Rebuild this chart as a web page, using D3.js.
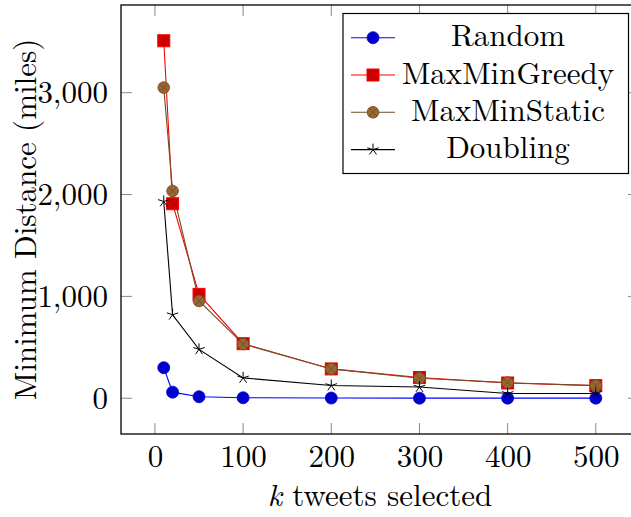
<!DOCTYPE html>
<html>
<head>
<meta charset="utf-8">
<script src="https://cdn.jsdelivr.net/npm/d3@7/dist/d3.min.js"></script>
<style>
  html, body { margin: 0; padding: 0; background: #fff; }
  svg { display: block; }
</style>
</head>
<body>
<svg id="chart" width="631" height="517"></svg>
<script>
// Number of tweets selected
const kValues = [10, 20, 50, 100, 200, 300, 400, 500];

// Minimum pairwise distance (miles) for each selection method
const randomVals     = [300, 60, 15, 5, 2, 1, 1, 1];
const maxMinGreedy   = [3510, 1910, 1020, 536, 288, 204, 150, 124];
const maxMinStatic   = [3050, 2035, 955, 532, 288, 196, 153, 124];
const doublingVals   = [1932, 820, 480, 200, 125, 110, 47, 47];

const xTicks = [0, 100, 200, 300, 400, 500];
const yTicks = [0, 1000, 2000, 3000];

const seriesNames = ["Random", "MaxMinGreedy", "MaxMinStatic", "Doubling"];

const series = [
  { name: seriesNames[0], values: randomVals,   line: "#0000ff", fill: "#0000cc", stroke: "#0000cc", mark: "circle" },
  { name: seriesNames[1], values: maxMinGreedy, line: "#ff0000", fill: "#cc0000", stroke: "#ff0000", mark: "square" },
  { name: seriesNames[2], values: maxMinStatic, line: "#734d26", fill: "#996633", stroke: "#734d26", mark: "otimes" },
  { name: seriesNames[3], values: doublingVals, line: "#000000", fill: "none",    stroke: "#000000", mark: "star" }
];

const FONT = "'Latin Modern Roman', 'CMU Serif', 'Liberation Serif', serif";

const svg = d3.select("#chart");

// Plot box (right edge extends slightly past the canvas)
const boxL = 121, boxR = 639, boxT = 5, boxB = 434;

const x = d3.scaleLinear().domain([-38.5, 549]).range([boxL, boxR]);
const y = d3.scaleLinear().domain([-351, 3861]).range([boxB, boxT]);

const tickLen = 11;
const tickColor = "#8a8a8a";

// Ticks on all four sides, pointing inward
const ticksG = svg.append("g");
xTicks.forEach(t => {
  ticksG.append("line").attr("x1", x(t)).attr("x2", x(t)).attr("y1", boxB).attr("y2", boxB - tickLen)
    .attr("stroke", tickColor).attr("stroke-width", 1);
  ticksG.append("line").attr("x1", x(t)).attr("x2", x(t)).attr("y1", boxT).attr("y2", boxT + tickLen)
    .attr("stroke", tickColor).attr("stroke-width", 1);
});
yTicks.forEach(t => {
  ticksG.append("line").attr("x1", boxL).attr("x2", boxL + tickLen).attr("y1", y(t)).attr("y2", y(t))
    .attr("stroke", tickColor).attr("stroke-width", 1);
  ticksG.append("line").attr("x1", boxR).attr("x2", boxR - tickLen).attr("y1", y(t)).attr("y2", y(t))
    .attr("stroke", tickColor).attr("stroke-width", 1);
});

// Tick labels via d3 axes (domain path and tick lines hidden)
const fmt = d3.format(",");
const xAxis = d3.axisBottom(x).tickValues(xTicks).tickSize(0).tickPadding(0).tickFormat(d3.format("d"));
const gx = svg.append("g").attr("transform", `translate(0,${boxB})`).call(xAxis);
gx.select(".domain").remove();
gx.attr("font-family", null).attr("font-size", null);
gx.selectAll("text").style("font-family", FONT).style("font-size", "31px")
  .attr("y", 33).attr("dy", 0).attr("fill", "#000");

const yAxis = d3.axisLeft(y).tickValues(yTicks).tickSize(0).tickPadding(0).tickFormat(fmt);
const gy = svg.append("g").attr("transform", `translate(${boxL},0)`).call(yAxis);
gy.select(".domain").remove();
gy.attr("font-family", null).attr("font-size", null);
gy.selectAll("text").style("font-family", FONT).style("font-size", "31px")
  .attr("x", -13).attr("dy", "0.33em").attr("fill", "#000");

// Series lines
const lineGen = d3.line().x((d, i) => x(kValues[i])).y(d => y(d));
series.forEach(s => {
  svg.append("path").datum(s.values)
    .attr("d", lineGen).attr("fill", "none")
    .attr("stroke", s.line).attr("stroke-width", 1.1);
});

// Marker drawing
function drawMark(g, type, cx, cy, s) {
  if (type === "circle") {
    g.append("circle").attr("cx", cx).attr("cy", cy).attr("r", 6)
      .attr("fill", s.fill).attr("stroke", s.stroke).attr("stroke-width", 0.8);
  } else if (type === "square") {
    g.append("rect").attr("x", cx - 6).attr("y", cy - 6).attr("width", 12).attr("height", 12)
      .attr("fill", s.fill).attr("stroke", s.stroke).attr("stroke-width", 1);
  } else if (type === "otimes") {
    const r = 5.8;
    g.append("circle").attr("cx", cx).attr("cy", cy).attr("r", r)
      .attr("fill", s.fill).attr("stroke", s.stroke).attr("stroke-width", 0.9);
    const d = r * Math.SQRT1_2;
    g.append("path")
      .attr("d", `M${cx - d},${cy - d}L${cx + d},${cy + d}M${cx - d},${cy + d}L${cx + d},${cy - d}`)
      .attr("stroke", s.stroke).attr("stroke-width", 0.9);
  } else if (type === "star") {
    const r = 6;
    let p = "";
    for (let i = 0; i < 5; i++) {
      const a = -Math.PI / 2 + i * 2 * Math.PI / 5;
      p += `M${cx},${cy}L${cx + r * Math.cos(a)},${cy + r * Math.sin(a)}`;
    }
    g.append("path").attr("d", p).attr("stroke", s.stroke).attr("stroke-width", 1).attr("fill", "none");
  }
}

series.forEach(s => {
  const g = svg.append("g");
  s.values.forEach((v, i) => drawMark(g, s.mark, x(kValues[i]), y(v), s));
});

// Axis box
svg.append("rect").attr("x", boxL).attr("y", boxT).attr("width", boxR - boxL).attr("height", boxB - boxT)
  .attr("fill", "none").attr("stroke", "#000").attr("stroke-width", 1.3);

// Legend
const lg = svg.append("g");
const lgX = 343, lgY = 13.5, lgW = 285.5, lgH = 160;
lg.append("rect").attr("x", lgX).attr("y", lgY).attr("width", lgW).attr("height", lgH)
  .attr("fill", "#fff").attr("stroke", "#000").attr("stroke-width", 1.2);
series.forEach((s, i) => {
  const cy = 37.7 + i * 37.3;
  lg.append("line").attr("x1", 351).attr("x2", 395).attr("y1", cy).attr("y2", cy)
    .attr("stroke", s.line).attr("stroke-width", 1.1);
  drawMark(lg, s.mark, 373, cy, s);
  lg.append("text").attr("x", 508).attr("y", cy + 8.5).attr("text-anchor", "middle")
    .style("font-family", FONT).style("font-size", "31px").attr("fill", "#000").text(s.name);
});

// Axis titles
const xl = svg.append("text").attr("x", (boxL + boxR) / 2).attr("y", 506)
  .attr("text-anchor", "middle").style("font-family", FONT).style("font-size", "31px").attr("fill", "#000");
xl.append("tspan").style("font-style", "italic").text("k");
xl.append("tspan").text(" tweets selected");

svg.append("text")
  .attr("transform", `translate(36,${(boxT + boxB) / 2}) rotate(-90)`)
  .attr("text-anchor", "middle").style("font-family", FONT).style("font-size", "31px").attr("fill", "#000")
  .text("Minimum Distance (miles)");
</script>
</body>
</html>
